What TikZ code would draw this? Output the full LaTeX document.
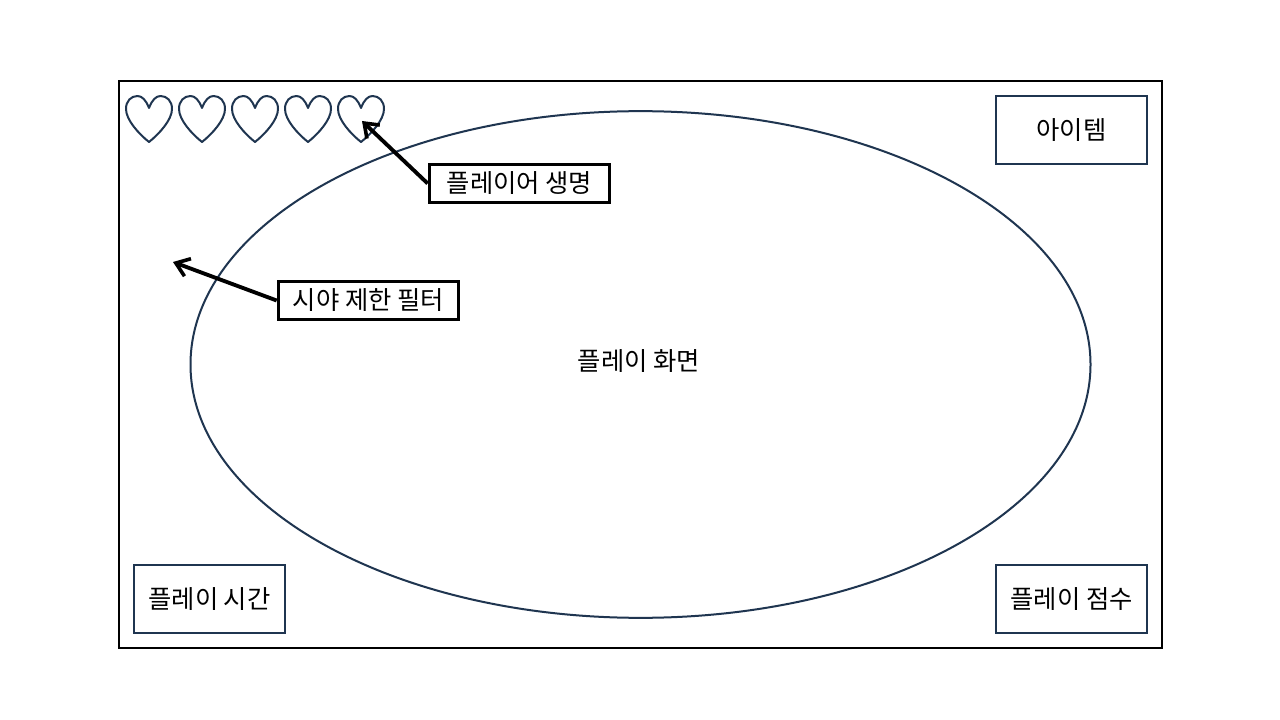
\documentclass[tikz,border=0pt]{standalone}
\usepackage{fontspec}
\setmainfont{Noto Sans CJK KR}
\usetikzlibrary{shapes.geometric,arrows.meta}
\definecolor{navy}{HTML}{1F3550}
\tikzset{
 px/.style={x=0.75pt,y=-0.75pt},
 lab/.style={font=\fontsize{19pt}{22pt}\selectfont,inner sep=0pt,text=black},
 panel/.style={draw=navy,line width=1.2pt,fill=white,minimum width=113.25pt,minimum height=51pt,inner sep=0pt,lab},
 callout/.style={draw=black,line width=2.25pt,fill=white,minimum width=135.5pt,minimum height=28pt,inner sep=0pt,lab},
 pointer/.style={draw=black,line width=2.9pt,-{Straight Barb[length=9.5pt,width=14pt,line width=2.7pt]}},
 heart/.style={draw=navy,line width=1.5pt,fill=white,line join=round},
}
\begin{document}
\begin{tikzpicture}[px]
\useasboundingbox (0,0) rectangle (1280,720);
\fill[white] (0,0) rectangle (1280,720);
\node[draw=black,line width=1.5pt,minimum width=782.25pt,minimum height=425.25pt,inner sep=0pt] (frame) at (640.5,364.5) {};
\node[ellipse,draw=navy,line width=1.5pt,minimum width=675pt,minimum height=380pt,inner sep=0pt] (play) at (640.5,364.5) {};
\node[lab] (playlabel) at (639,361) {플레이 화면};
\foreach \hx in {149,202,255,308,361}{
 \begin{scope}[shift={(\hx,108)}]
 \draw[heart] (0,0) .. controls (-3,-8) and (-7,-12) .. (-11.5,-12)
   .. controls (-18,-12) and (-23,-7) .. (-23,1)
   .. controls (-23,12) and (-10,26) .. (0,34)
   .. controls (10,26) and (23,12) .. (23,1)
   .. controls (23,-7) and (18,-12) .. (11.5,-12)
   .. controls (7,-12) and (3,-8) .. (0,0) -- cycle;
 \end{scope}
}
\node[panel] (item) at (1071.5,130) {아이템};
\node[panel] (time) at (209.5,599) {플레이 시간};
\node[panel] (score) at (1071.5,599) {플레이 점수};
\node[callout] (life) at (519.5,183.5) {플레이어 생명};
\node[callout] (filter) at (368.5,300.5) {시야 제한 필터};
\coordinate (lifeend) at (362,121);
\coordinate (filterend) at (173,262);
\draw[pointer] (life.west) -- (lifeend);
\draw[pointer] (filter.west) -- (filterend);
\end{tikzpicture}
\end{document}
